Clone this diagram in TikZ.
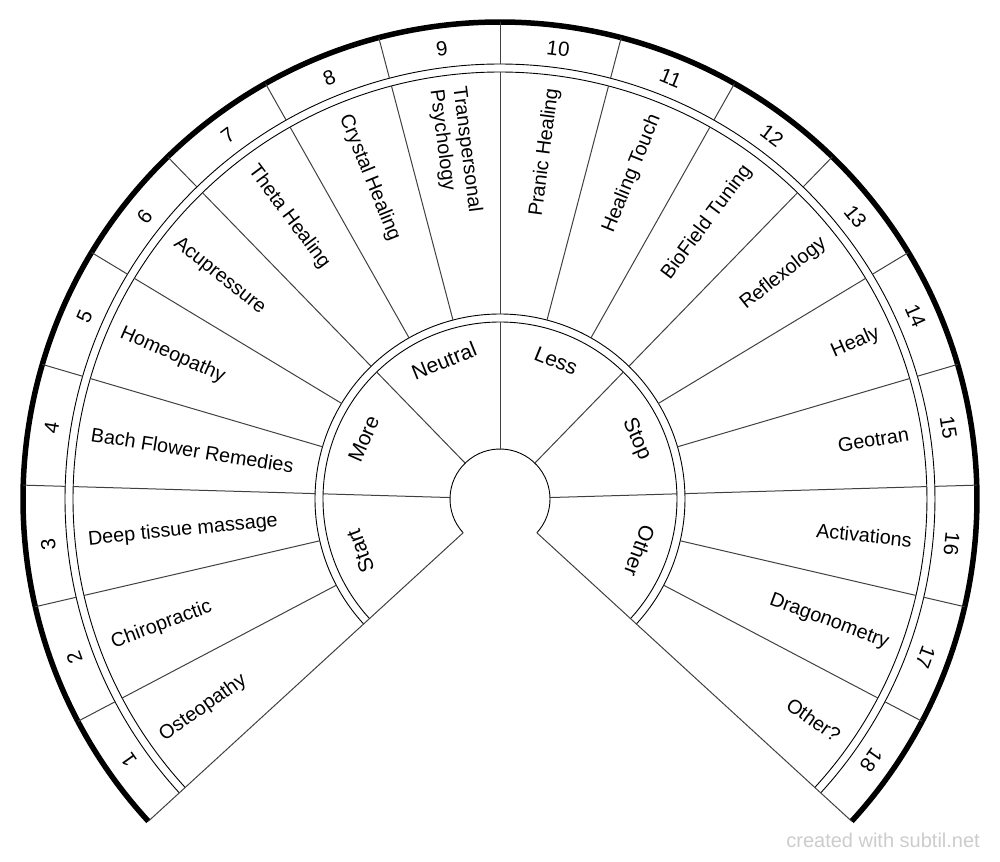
\documentclass[tikz,border=0pt]{standalone}
\usepackage{fontspec}
\setmainfont{Liberation Sans}
\usepackage{tikz}

\begin{document}
\begin{tikzpicture}[x=1pt,y=1pt,
  spoke/.style={draw=black!75,line width=1pt},
  ring/.style={draw=black,line width=0.9pt},
  numlabel/.style={inner sep=0pt,font=\fontsize{20.5}{23}\selectfont},
  itemlabel/.style={inner sep=0pt,font=\fontsize{19.8}{23}\selectfont},
  innerlabel/.style={inner sep=0pt,font=\fontsize{21}{24}\selectfont}]

  \useasboundingbox (-500,-362) rectangle (500,499);

  % rings
  \draw[line width=5.5pt] (222.5:477) arc[start angle=222.5,end angle=-42.5,radius=477];
  \draw[ring] (222.5:435) arc[start angle=222.5,end angle=-42.5,radius=435];
  \draw[ring] (222.5:427) arc[start angle=222.5,end angle=-42.5,radius=427];
  \draw[ring] (222.5:185) arc[start angle=222.5,end angle=-42.5,radius=185];
  \draw[ring] (222.5:177) arc[start angle=222.5,end angle=-42.5,radius=177];
  \draw[ring] (222.5:50) arc[start angle=222.5,end angle=-42.5,radius=50];

  % end lines
  \draw[spoke] (222.5:50) -- (222.5:477);
  \draw[spoke] (-42.5:50) -- (-42.5:477);

  % number ring
  \draw[spoke] (207.7778:435) -- (207.7778:477);
  \draw[spoke] (193.0556:435) -- (193.0556:477);
  \draw[spoke] (178.3333:435) -- (178.3333:477);
  \draw[spoke] (163.6111:435) -- (163.6111:477);
  \draw[spoke] (148.8889:435) -- (148.8889:477);
  \draw[spoke] (134.1667:435) -- (134.1667:477);
  \draw[spoke] (119.4444:435) -- (119.4444:477);
  \draw[spoke] (104.7222:435) -- (104.7222:477);
  \draw[spoke] (90:435) -- (90:477);
  \draw[spoke] (75.2778:435) -- (75.2778:477);
  \draw[spoke] (60.5556:435) -- (60.5556:477);
  \draw[spoke] (45.8333:435) -- (45.8333:477);
  \draw[spoke] (31.1111:435) -- (31.1111:477);
  \draw[spoke] (16.3889:435) -- (16.3889:477);
  \draw[spoke] (1.6667:435) -- (1.6667:477);
  \draw[spoke] (-13.0556:435) -- (-13.0556:477);
  \draw[spoke] (-27.7778:435) -- (-27.7778:477);

  % item ring
  \draw[spoke] (207.7778:185) -- (207.7778:427);
  \draw[spoke] (193.0556:185) -- (193.0556:427);
  \draw[spoke] (178.3333:185) -- (178.3333:427);
  \draw[spoke] (163.6111:185) -- (163.6111:427);
  \draw[spoke] (148.8889:185) -- (148.8889:427);
  \draw[spoke] (134.1667:185) -- (134.1667:427);
  \draw[spoke] (119.4444:185) -- (119.4444:427);
  \draw[spoke] (104.7222:185) -- (104.7222:427);
  \draw[spoke] (90:185) -- (90:427);
  \draw[spoke] (75.2778:185) -- (75.2778:427);
  \draw[spoke] (60.5556:185) -- (60.5556:427);
  \draw[spoke] (45.8333:185) -- (45.8333:427);
  \draw[spoke] (31.1111:185) -- (31.1111:427);
  \draw[spoke] (16.3889:185) -- (16.3889:427);
  \draw[spoke] (1.6667:185) -- (1.6667:427);
  \draw[spoke] (-13.0556:185) -- (-13.0556:427);
  \draw[spoke] (-27.7778:185) -- (-27.7778:427);

  % inner ring
  \draw[spoke] (178.3333:50) -- (178.3333:177);
  \draw[spoke] (134.1667:50) -- (134.1667:177);
  \draw[spoke] (90:50) -- (90:177);
  \draw[spoke] (45.8333:50) -- (45.8333:177);
  \draw[spoke] (1.6667:50) -- (1.6667:177);

  % numbers
  \node[numlabel,rotate=125.14] (num1) at (215.1389:454) {1};
  \node[numlabel,rotate=110.42] (num2) at (200.4167:454) {2};
  \node[numlabel,rotate=95.69] (num3) at (185.6944:454) {3};
  \node[numlabel,rotate=80.97] (num4) at (170.9722:454) {4};
  \node[numlabel,rotate=66.25] (num5) at (156.25:454) {5};
  \node[numlabel,rotate=51.53] (num6) at (141.5278:454) {6};
  \node[numlabel,rotate=36.81] (num7) at (126.8056:454) {7};
  \node[numlabel,rotate=22.08] (num8) at (112.0833:454) {8};
  \node[numlabel,rotate=7.36] (num9) at (97.3611:454) {9};
  \node[numlabel,rotate=-7.36] (num10) at (82.6389:454) {10};
  \node[numlabel,rotate=-22.08] (num11) at (67.9167:454) {11};
  \node[numlabel,rotate=-36.81] (num12) at (53.1944:454) {12};
  \node[numlabel,rotate=-51.53] (num13) at (38.4722:454) {13};
  \node[numlabel,rotate=-66.25] (num14) at (23.75:454) {14};
  \node[numlabel,rotate=-80.97] (num15) at (9.0278:454) {15};
  \node[numlabel,rotate=-95.69] (num16) at (-5.6944:454) {16};
  \node[numlabel,rotate=-110.42] (num17) at (-20.4167:454) {17};
  \node[numlabel,rotate=-125.14] (num18) at (-35.1389:454) {18};

  % items
  \node[itemlabel,anchor=west,rotate=35.14] (item1) at (215.1389:414) {Osteopathy};
  \node[itemlabel,anchor=west,rotate=20.42] (item2) at (200.4167:414) {Chiropractic};
  \node[itemlabel,anchor=west,rotate=5.69] (item3) at (185.6944:414) {Deep tissue massage};
  \node[itemlabel,anchor=west,rotate=-9.03] (item4) at (170.9722:414) {Bach Flower Remedies};
  \node[itemlabel,anchor=west,rotate=-23.75] (item5) at (156.25:414) {Homeopathy};
  \node[itemlabel,anchor=west,rotate=-38.47] (item6) at (141.5278:414) {Acupressure};
  \node[itemlabel,anchor=west,rotate=-53.19] (item7) at (126.8056:414) {Theta Healing};
  \node[itemlabel,anchor=west,rotate=-67.92] (item8) at (112.0833:414) {Crystal Healing};
  \node[itemlabel,anchor=west,rotate=-82.64,align=left] (item9) at (97.3611:414) {Transpersonal\\Psychology};
  \node[itemlabel,anchor=east,rotate=82.64] (item10) at (82.6389:414) {Pranic Healing};
  \node[itemlabel,anchor=east,rotate=67.92] (item11) at (67.9167:414) {Healing Touch};
  \node[itemlabel,anchor=east,rotate=53.19] (item12) at (53.1944:414) {BioField Tuning};
  \node[itemlabel,anchor=east,rotate=38.47] (item13) at (38.4722:414) {Reflexology};
  \node[itemlabel,anchor=east,rotate=23.75] (item14) at (23.75:414) {Healy};
  \node[itemlabel,anchor=east,rotate=9.03] (item15) at (9.0278:414) {Geotran};
  \node[itemlabel,anchor=east,rotate=-5.69] (item16) at (-5.6944:414) {Activations};
  \node[itemlabel,anchor=east,rotate=-20.42] (item17) at (-20.4167:414) {Dragonometry};
  \node[itemlabel,anchor=east,rotate=-35.14] (item18) at (-35.1389:414) {Other?};

  % inner sectors
  \node[innerlabel,rotate=110.42] (start) at (200.4167:149) {Start};
  \node[innerlabel,rotate=66.25] (more) at (156.25:149) {More};
  \node[innerlabel,rotate=22.08] (neutral) at (112.0833:149) {Neutral};
  \node[innerlabel,rotate=-22.08] (less) at (67.9167:149) {Less};
  \node[innerlabel,rotate=-66.25] (stop) at (23.75:149) {Stop};
  \node[innerlabel,rotate=-110.42] (other) at (-20.4167:149) {Other};

  \node[anchor=east,inner sep=0pt,text=black!20,font=\fontsize{20}{23}\selectfont] (credit) at (480,-341) {created with subtil.net};
\end{tikzpicture}
\end{document}
